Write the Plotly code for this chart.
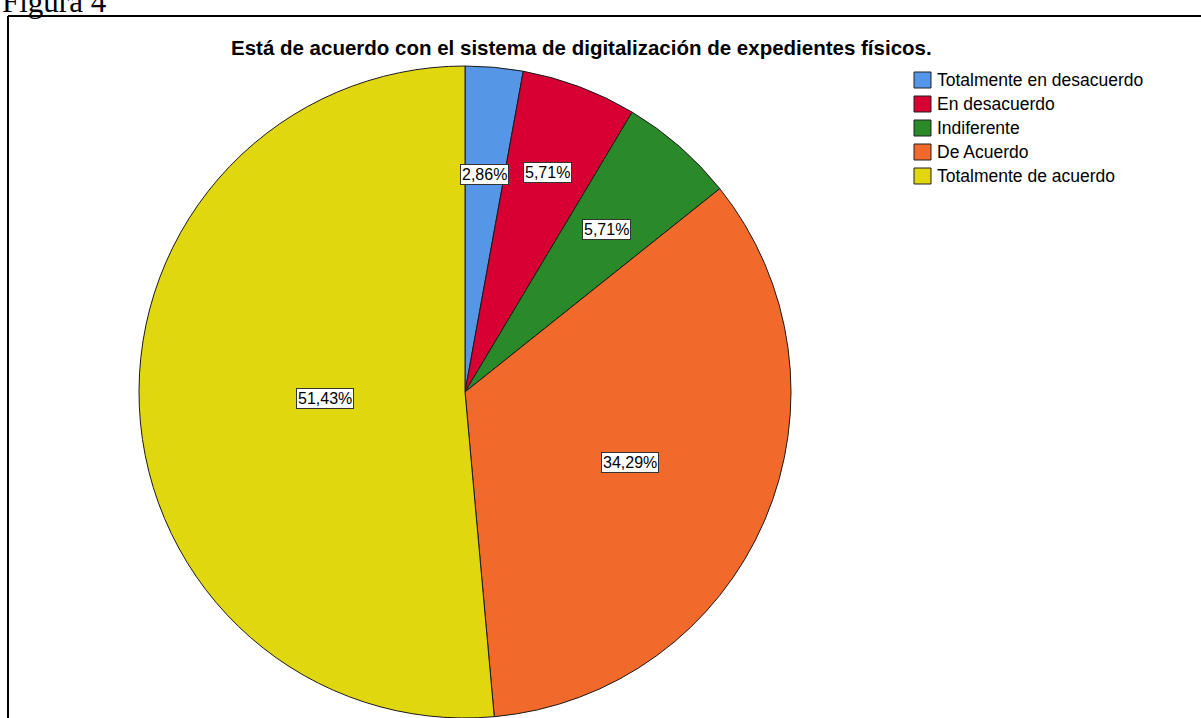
import math
import plotly.graph_objects as go

categories = ["Totalmente en desacuerdo", "En desacuerdo", "Indiferente", "De Acuerdo", "Totalmente de acuerdo"]
percentages = [2.86, 5.71, 5.71, 34.29, 51.43]
colors = ["#5596e6", "#d70032", "#2a8a2a", "#f2692c", "#e1d70f"]
label_radius = [0.67, 0.72, 0.66, 0.55, 0.43]
title_text = "Está de acuerdo con el sistema de digitalización de expedientes físicos."

W, H = 1201, 718
cx, cy, R = 465, 392, 326


def px_x(x):
    return x / W


def px_y(y):
    return (H - y) / H


fig = go.Figure(go.Pie(
    labels=categories, values=percentages, sort=False, direction="clockwise", rotation=0,
    marker=dict(colors=colors, line=dict(color="#1a1a1a", width=1)),
    textinfo="none", hoverinfo="label+percent", showlegend=False,
    domain=dict(x=[px_x(cx - R), px_x(cx + R)], y=[px_y(cy + R), px_y(cy - R)]),
))

annotations = []
shapes = []
total = sum(percentages)
cum = 0
for p, rf in zip(percentages, label_radius):
    mid = (cum + p / 2) / total * 2 * math.pi
    cum += p
    lx = cx + rf * R * math.sin(mid)
    ly = cy - rf * R * math.cos(mid)
    annotations.append(dict(
        x=px_x(lx), y=px_y(ly), xref="paper", yref="paper", xanchor="center", yanchor="middle",
        showarrow=False,
        text=f"{p:.2f}%".replace(".", ","), font=dict(family="Arial", size=16, color="black"),
        bgcolor="white", bordercolor="#333", borderwidth=1, borderpad=1,
    ))

# legend (drawn manually to match the square swatch size)
leg_x0, leg_y0, leg_dy = 914, 80, 24
for i, (name, col) in enumerate(zip(categories, colors)):
    yc = leg_y0 + i * leg_dy
    shapes.append(dict(type="rect", xref="paper", yref="paper",
                       x0=px_x(leg_x0), x1=px_x(leg_x0 + 17), y0=px_y(yc + 8), y1=px_y(yc - 8),
                       fillcolor=col, line=dict(color="#222", width=1)))
    annotations.append(dict(x=px_x(leg_x0 + 21), y=px_y(yc), xref="paper", yref="paper",
                            xanchor="left", yanchor="middle", showarrow=False, text=name,
                            font=dict(family="Arial", size=17.5, color="black")))

annotations.append(dict(x=px_x(581), y=px_y(48), xref="paper", yref="paper",
                        xanchor="center", yanchor="middle", showarrow=False,
                        text=f"<b>{title_text}</b>", font=dict(family="Arial", size=20.5, color="black")))
annotations.append(dict(x=0, y=px_y(21), xref="paper", yref="paper", xanchor="left", yanchor="bottom",
                        showarrow=False, text="Figura 4",
                        font=dict(family="Liberation Serif", size=31, color="black")))

shapes += [
    dict(type="line", xref="paper", yref="paper", x0=px_x(8), x1=1, y0=px_y(16), y1=px_y(16),
         line=dict(color="black", width=2)),
    dict(type="line", xref="paper", yref="paper", x0=px_x(8), x1=px_x(8), y0=0, y1=px_y(16),
         line=dict(color="black", width=2)),
]

fig.update_layout(
    width=W, height=H, margin=dict(l=0, r=0, t=0, b=0),
    paper_bgcolor="white", plot_bgcolor="white",
    annotations=annotations, shapes=shapes, showlegend=False,
)

fig.write_html("out.html", config={"displayModeBar": False},
               post_script="document.body.style.margin='0';document.body.style.padding='0';")
